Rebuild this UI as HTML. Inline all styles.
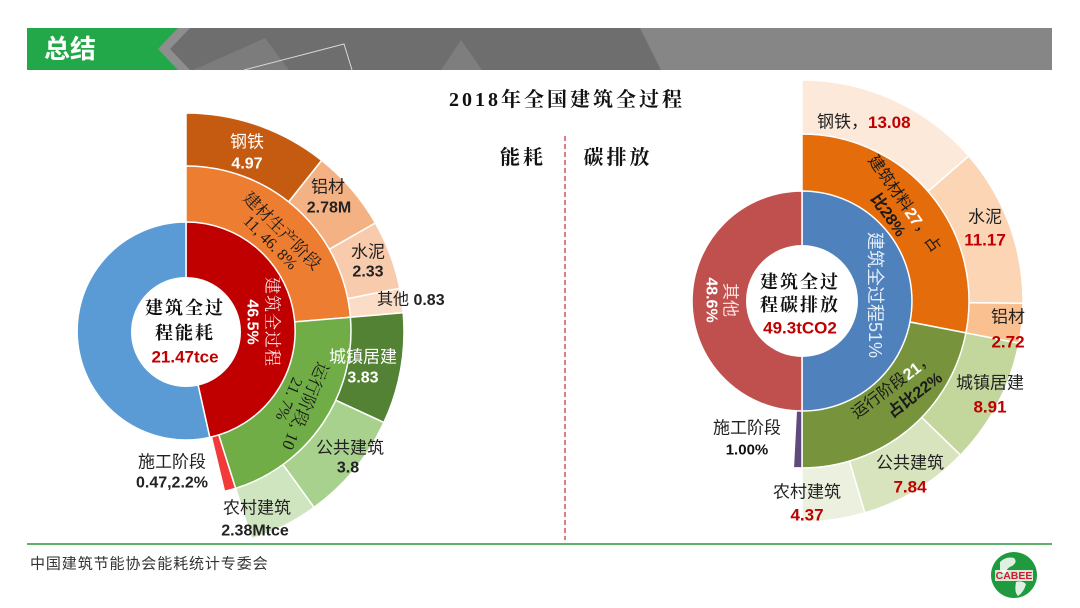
<!DOCTYPE html>
<html><head><meta charset="utf-8"><style>
html,body{margin:0;padding:0;background:#fff;}
svg{display:block;}
.s{font-family:"Liberation Sans","Noto Sans CJK SC",sans-serif;}
.r{font-family:"Liberation Serif","Noto Serif CJK SC",serif;}
text{dominant-baseline:central;}
</style></head><body>
<svg width="1080" height="608" viewBox="0 0 1080 608" xmlns="http://www.w3.org/2000/svg">
<rect width="1080" height="608" fill="#fff"/>
<!-- header -->
<rect x="150" y="28" width="902" height="42" fill="#6e6e6e"/>
<polygon points="640,28 1052,28 1052,70 661,70" fill="#868686"/>
<polygon points="193,70 265,38 289,70" fill="#7c7c7c"/>
<polygon points="441,70 461,40 482,70" fill="#7e7e7e"/>
<polyline points="244,70 344,44 352,70" fill="none" stroke="#d8d8d8" stroke-width="1"/>
<polygon points="166,28 190,28 170,49 190,70 166,70 146,49" fill="#8e8e8e"/>
<polygon points="27,28 178,28 158,49 178,70 27,70" fill="#22a849"/>
<text x="44" y="49" class="s" font-size="26" font-weight="bold" fill="#fff">总结</text>

<!-- title -->
<text x="567" y="100" class="r" font-size="20" font-weight="bold" text-anchor="middle" fill="#111" letter-spacing="3">2018年全国建筑全过程</text>
<text x="523" y="158" class="r" font-size="20" font-weight="bold" text-anchor="middle" fill="#111" letter-spacing="3">能耗</text>
<text x="618" y="158" class="r" font-size="20" font-weight="bold" text-anchor="middle" fill="#111" letter-spacing="3">碳排放</text>
<line x1="565" y1="136" x2="565" y2="540" stroke="#d0505a" stroke-width="1.5" stroke-dasharray="5,3"/>

<!-- LEFT CHART center (186,331) -->
<g stroke="#fff" stroke-width="1.5" stroke-linejoin="round">
<path d="M186,331 L186,113 A218,218 0 0 1 321.7,160.4 Z" fill="#c55a11"/>
<path d="M186,331 L321.7,160.4 A218,218 0 0 1 375.4,223.0 Z" fill="#f4b183"/>
<path d="M186,331 L375.4,223.0 A218,218 0 0 1 399.8,288.3 Z" fill="#f8cbad"/>
<path d="M186,331 L399.8,288.3 A218,218 0 0 1 403.2,312.8 Z" fill="#fbdcc6"/>
<path d="M186,331 L403.2,312.8 A218,218 0 0 1 383.9,422.5 Z" fill="#548235"/>
<path d="M186,331 L383.9,422.5 A218,218 0 0 1 314.1,507.4 Z" fill="#a9d18e"/>
<path d="M186,331 L314.1,507.4 A218,218 0 0 1 251.6,538.9 Z" fill="#cfe5c0"/>
<path d="M186,331 L186,166 A165,165 0 0 1 350.4,317.2 Z" fill="#ed7d31"/>
<path d="M186,331 L350.4,317.2 A165,165 0 0 1 235.6,488.4 Z" fill="#70ad47"/>
<path d="M186,331 L235.6,488.4 A165,165 0 0 1 224.5,491.4 Z" fill="#f23a3a"/>
<path d="M186,331 L186,222 A109,109 0 0 1 209.8,437.4 Z" fill="#c00000"/>
<path d="M186,331 L209.8,437.4 A109,109 0 1 1 186,222 Z" fill="#5b9bd5"/>
</g>
<circle cx="186" cy="332" r="55" fill="#fff"/>
<text x="185" y="308" class="r" font-size="18" font-weight="bold" text-anchor="middle" fill="#111" letter-spacing="2">建筑全过</text>
<text x="185" y="333" class="r" font-size="18" font-weight="bold" text-anchor="middle" fill="#111" letter-spacing="2">程能耗</text>
<text x="185" y="357" class="s" font-size="17" font-weight="bold" text-anchor="middle" fill="#c00000">21.47tce</text>

<g transform="translate(262,322) rotate(90)">
<text x="0" y="-10" class="r" font-size="17" text-anchor="middle" fill="#fbe3e3" letter-spacing="1">建筑全过程</text>
<text x="0" y="10" class="s" font-size="16" font-weight="bold" text-anchor="middle" fill="#fff">46.5%</text>
</g>
<g transform="translate(282,231) rotate(45)">
<text x="0" y="0" class="r" font-size="17" text-anchor="middle" fill="#1a1a1a">建材生产阶段</text>
<text x="0" y="17" class="r" font-size="16" text-anchor="middle" fill="#1a1a1a">11, 46. 8%</text>
</g>
<g transform="translate(305,406) rotate(113)">
<text x="0" y="0" class="r" font-size="17" text-anchor="middle" fill="#1a1a1a">运行阶段, 10</text>
<text x="0" y="18" class="r" font-size="16" text-anchor="middle" fill="#1a1a1a">21. 7%</text>
</g>

<g class="s" text-anchor="middle">
<text x="247" y="142" font-size="17" fill="#fff">钢铁</text>
<text x="247" y="164" font-size="16" font-weight="bold" fill="#fff">4.97</text>
<text x="328" y="187" font-size="17" fill="#222">铝材</text>
<text x="329" y="208" font-size="16" font-weight="bold" fill="#222">2.78M</text>
<text x="368" y="252" font-size="17" fill="#222">水泥</text>
<text x="368" y="272" font-size="16" font-weight="bold" fill="#222">2.33</text>
<text x="363" y="357" font-size="17" fill="#fff">城镇居建</text>
<text x="363" y="378" font-size="16" font-weight="bold" fill="#fff">3.83</text>
<text x="350" y="448" font-size="17" fill="#222">公共建筑</text>
<text x="348" y="468" font-size="16" font-weight="bold" fill="#222">3.8</text>
<text x="257" y="508" font-size="17" fill="#222">农村建筑</text>
<text x="255" y="531" font-size="16" font-weight="bold" fill="#222">2.38Mtce</text>
<text x="172" y="462" font-size="17" fill="#222">施工阶段</text>
<text x="172" y="483" font-size="16" font-weight="bold" fill="#222">0.47,2.2%</text>
</g>
<text x="377" y="300" class="s" font-size="16" fill="#222">其他 <tspan font-weight="bold">0.83</tspan></text>

<!-- RIGHT CHART center (802,301) -->
<g stroke="#fff" stroke-width="1.5" stroke-linejoin="round">
<path d="M802,301 L802,80 A221,221 0 0 1 968.8,156.0 Z" fill="#fde9d9"/>
<path d="M802,301 L968.8,156.0 A221,221 0 0 1 1023.0,303.3 Z" fill="#fcd5b5"/>
<path d="M802,301 L1023.0,303.3 A221,221 0 0 1 1018.9,343.2 Z" fill="#fac090"/>
<path d="M802,301 L1018.9,343.2 A221,221 0 0 1 960.4,455.1 Z" fill="#c3d69b"/>
<path d="M802,301 L960.4,455.1 A221,221 0 0 1 864.8,512.9 Z" fill="#d7e4bd"/>
<path d="M802,301 L864.8,512.9 A221,221 0 0 1 802,522 Z" fill="#ebf1de"/>
<path d="M802,301 L802,134 A167,167 0 0 1 965.9,332.9 Z" fill="#e46c0a"/>
<path d="M802,301 L965.9,332.9 A167,167 0 0 1 802,468 Z" fill="#77933c"/>
<path d="M802,301 L802,468 A167,167 0 0 1 793.3,467.8 Z" fill="#604a7b"/>
<path d="M802,301 L802,191 A110,110 0 0 1 802,411 Z" fill="#4f81bd"/>
<path d="M802,301 L802,411 A110,110 0 0 1 802,191 Z" fill="#c0504d"/>
</g>
<circle cx="802" cy="301" r="56" fill="#fff"/>
<text x="800" y="282" class="r" font-size="18" font-weight="bold" text-anchor="middle" fill="#111" letter-spacing="2">建筑全过</text>
<text x="800" y="305" class="r" font-size="18" font-weight="bold" text-anchor="middle" fill="#111" letter-spacing="2">程碳排放</text>
<text x="800" y="328" class="s" font-size="17" font-weight="bold" text-anchor="middle" fill="#c00000">49.3tCO2</text>

<g transform="translate(721,300) rotate(90)">
<text x="0" y="-9" class="s" font-size="17" text-anchor="middle" fill="#fbe0e0">其他</text>
<text x="0" y="10" class="s" font-size="16" font-weight="bold" text-anchor="middle" fill="#fff">48.6%</text>
</g>
<g transform="translate(875,295) rotate(90)">
<text x="0" y="0" class="s" font-size="18" text-anchor="middle" fill="#e3edf8">建筑全过程51%</text>
</g>
<g transform="translate(904,204) rotate(55)">
<text x="0" y="0" class="s" font-size="16" text-anchor="middle" fill="#1a1a1a">建筑材料<tspan fill="#fff" font-weight="bold">27</tspan>，占</text>
<text x="0" y="20" class="s" font-size="16" font-weight="bold" text-anchor="middle" fill="#1a1a1a">比28%</text>
</g>
<g transform="translate(893,386) rotate(-37)">
<text x="0" y="0" class="s" font-size="16" text-anchor="middle" fill="#1a1a1a">运行阶段<tspan fill="#fff" font-weight="bold">21</tspan>，</text>
<text x="12" y="21" class="s" font-size="16" font-weight="bold" text-anchor="middle" fill="#1a1a1a">占比22%</text>
</g>

<text x="817" y="122" class="s" font-size="17" fill="#222">钢铁，<tspan fill="#c00000" font-weight="bold">13.08</tspan></text>
<g class="s" text-anchor="middle">
<text x="985" y="217" font-size="17" fill="#222">水泥</text>
<text x="985" y="240" font-size="17" font-weight="bold" fill="#c00000">11.17</text>
<text x="1008" y="317" font-size="17" fill="#222">铝材</text>
<text x="1008" y="342" font-size="17" font-weight="bold" fill="#c00000">2.72</text>
<text x="990" y="383" font-size="17" fill="#222">城镇居建</text>
<text x="990" y="407" font-size="17" font-weight="bold" fill="#c00000">8.91</text>
<text x="910" y="463" font-size="17" fill="#222">公共建筑</text>
<text x="910" y="487" font-size="17" font-weight="bold" fill="#c00000">7.84</text>
<text x="807" y="492" font-size="17" fill="#222">农村建筑</text>
<text x="807" y="515" font-size="17" font-weight="bold" fill="#c00000">4.37</text>
<text x="747" y="428" font-size="17" fill="#222">施工阶段</text>
<text x="747" y="450" font-size="15" font-weight="bold" fill="#111">1.00%</text>
</g>

<!-- footer -->
<line x1="27" y1="544" x2="1052" y2="544" stroke="#5fb26a" stroke-width="2"/>
<text x="30" y="564" class="s" font-size="15" fill="#333" letter-spacing="0.9">中国建筑节能协会能耗统计专委会</text>
<circle cx="1014" cy="575" r="23" fill="#1f9a3e"/>
<path d="M1000,562 q6,-6 14,-4 q4,4 -2,8 q-6,2 -6,8 q-4,-2 -6,-4 z" fill="#fff" opacity="0.85"/>
<path d="M1016,582 q6,-2 10,2 q-2,8 -8,12 q-4,-4 -2,-14 z" fill="#fff" opacity="0.85"/>
<rect x="995" y="570" width="38" height="11" fill="#fff" opacity="0.8"/>
<text x="1014" y="576" class="s" font-size="10.5" font-weight="bold" text-anchor="middle" fill="#d01c2a">CABEE</text>
</svg>
</body></html>
